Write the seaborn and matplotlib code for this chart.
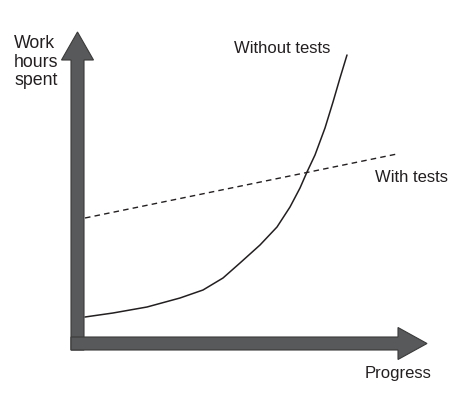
import matplotlib
matplotlib.use("Agg")
import matplotlib.pyplot as plt
import seaborn as sns
import pandas as pd
from matplotlib.patches import FancyArrow

# Conceptual data (progress vs work hours)
progress_without = [7.5, 35.5, 69.5, 102.5, 125.5, 145.5, 162.5, 182.5, 199.5,
                    212.5, 222.5, 229.5, 237.5, 247.5, 255.5, 262.5, 269.5]
hours_without = [26.5, 30.5, 36.5, 45.5, 53.5, 65.5, 80.5, 98.5, 116.5,
                 136.5, 155.5, 171.5, 188.5, 215.5, 241.5, 265.5, 288.5]
progress_with = [7.5, 319.5]
hours_with = [125.5, 189.5]

labels = {"without": "Without tests", "with": "With tests",
          "y": "Work\nhours\nspent", "x": "Progress"}

sns.set_style("white")
plt.rcParams['font.family'] = ['Liberation Sans', 'DejaVu Sans']

fig = plt.figure(figsize=(4.7, 3.97), dpi=100)
ax = fig.add_axes([0, 0, 1, 1])

fill = "#58595b"
edge = "#3a3a3a"
# axis arrows
ax.add_patch(FancyArrow(0, -6.5, 0, 318, width=13, head_width=32, head_length=28,
                        length_includes_head=True, fc=fill, ec=edge, lw=0.8, zorder=2))
ax.add_patch(FancyArrow(-6.5, 0, 356, 0, width=13, head_width=32, head_length=29,
                        length_includes_head=True, fc=fill, ec=edge, lw=0.8, zorder=2))

df_wo = pd.DataFrame({"progress": progress_without, "hours": hours_without})
df_w = pd.DataFrame({"progress": progress_with, "hours": hours_with})
sns.lineplot(data=df_wo, x="progress", y="hours", sort=False, color="#231f20",
             lw=1.1, ax=ax, zorder=3, solid_joinstyle="round")
sns.lineplot(data=df_w, x="progress", y="hours", sort=False, color="#231f20",
             lw=1.0, ax=ax, zorder=3, linestyle=(0, (4, 3)))
ax.set_xlim(-77.5, 392.5)
ax.set_ylim(-53.5, 343.5)
ax.axis("off")

tc = "#231f20"
ax.text(14 - 77.5, 343.5 - 35, labels["y"], ha="left", va="top", fontsize=12.8,
        color=tc, linespacing=1.13)
ax.text(282 - 77.5, 343.5 - 53, labels["without"], ha="center", va="baseline",
        fontsize=12, color=tc)
ax.text(375 - 77.5, 343.5 - 182, labels["with"], ha="left", va="baseline",
        fontsize=12, color=tc)
ax.text(365 - 77.5, 343.5 - 378, labels["x"], ha="left", va="baseline",
        fontsize=12, color=tc)

fig.savefig("out.png", dpi=100)
